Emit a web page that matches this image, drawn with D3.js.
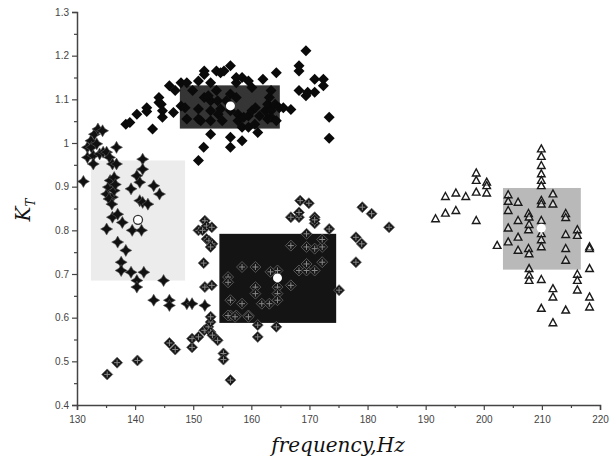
<!DOCTYPE html>
<html lang="en">
<head>
<meta charset="UTF-8">
<title>K_T vs frequency</title>
<script src="https://d3js.org/d3.v7.min.js"></script>
<style>
    body { margin: 0; background: #fff; }
    svg { display: block; }
    .tick text { font-family: Arial, "Liberation Sans", sans-serif; font-size: 10px; fill: #444; }
    .domain, .tick line { stroke: #444; }
</style>
</head>
<body>
<script>
    // filled diamonds (upper cluster)
    const diamondPts = [
        [138.4,1.043],[139.1,1.047],[140.3,1.066],[142.0,1.081],[142.0,1.072],[143.0,1.032],
        [144.1,1.104],[144.1,1.093],[144.5,1.089],[144.7,1.074],[144.7,1.059],[145.9,1.131],
        [146.9,1.120],[147.9,1.138],[147.9,1.085],[148.9,1.138],[148.9,1.055],[149.9,1.120],
        [150.9,1.055],[150.9,0.960],[151.8,0.990],[150.9,1.142],[151.9,1.165],[151.9,1.157],
        [151.9,1.104],[153.0,1.138],[153.0,1.097],[153.0,1.074],[153.0,1.020],[153.0,1.051],
        [154.0,1.165],[154.0,1.120],[154.3,1.066],[154.7,1.161],[155.0,1.051],[155.3,1.165],
        [156.4,1.177],[156.4,1.013],[156.4,0.990],[156.4,1.112],[156.4,1.074],[157.4,1.138],
        [157.4,1.150],[157.4,1.104],[157.7,1.066],[158.4,1.150],[158.4,1.005],[158.4,1.036],
        [159.5,1.142],[159.5,1.062],[159.5,1.036],[160.1,1.127],[160.6,1.043],[161.1,1.024],
        [161.4,1.062],[162.0,1.146],[162.4,1.074],[162.8,1.089],[163.1,1.104],[163.4,1.074],
        [163.4,1.059],[164.1,1.089],[164.3,1.161],[164.3,1.051],[164.8,1.081],[165.5,1.081],
        [166.8,1.077],[168.2,1.177],[168.2,1.165],[168.2,1.120],[169.4,1.211],[169.4,1.108],
        [169.7,1.116],[170.9,1.116],[170.9,1.146],[172.4,1.146],[172.4,1.131],[173.4,1.059],
        [173.4,1.011],[148.6,1.081],[150.9,1.078],[151.3,1.051],[152.6,1.108],[154.2,1.097],
        [154.7,1.078],[155.7,1.097],[157.7,1.051],[158.7,1.059],[160.1,1.074],[160.7,1.081],
        [162.8,1.055],[163.4,1.120],[146.6,1.070]
    ];

    // four-point stars (left cluster)
    const starPts = [
        [131.1,0.912],[131.8,0.990],[131.8,0.967],[132.4,1.005],[132.5,0.990],[132.8,0.971],
        [132.8,0.952],[133.0,1.020],[133.4,0.998],[133.6,1.032],[133.9,0.975],[134.4,1.028],
        [134.5,0.979],[135.1,0.979],[135.1,0.883],[135.4,0.899],[135.7,0.914],[135.6,0.967],
        [136.1,0.876],[136.1,0.830],[136.1,0.952],[136.4,0.921],[136.4,0.891],[136.8,0.990],
        [136.8,0.952],[137.0,0.837],[135.1,0.803],[137.0,0.773],[137.6,0.727],[137.6,0.708],
        [138.4,0.754],[137.8,0.818],[139.3,0.895],[139.3,0.704],[139.5,0.800],[140.3,0.925],
        [140.3,0.685],[140.3,0.670],[140.8,0.910],[140.8,0.868],[141.1,0.800],[141.3,0.963],
        [141.3,0.940],[141.5,0.704],[141.3,0.864],[142.2,0.860],[143.2,0.902],[144.2,0.883],
        [144.9,0.685],[143.2,0.640],[145.9,0.640],[145.9,0.628],[148.9,0.632],[149.8,0.632],
        [152.0,0.628],[135.5,0.872],[136.0,0.860],[136.6,0.905]
    ];

    // crossed diamonds (lower middle cluster)
    const crossPts = [
        [135.2,0.470],[136.9,0.497],[140.4,0.502],[145.9,0.542],[146.9,0.527],[149.8,0.532],
        [149.8,0.552],[150.9,0.556],[151.9,0.571],[152.6,0.579],[153.0,0.567],[153.3,0.560],
        [154.2,0.548],[153.0,0.590],[153.0,0.602],[155.2,0.518],[155.2,0.504],[156.4,0.457],
        [152.0,0.670],[153.2,0.674],[151.8,0.725],[150.9,0.800],[151.6,0.800],[152.0,0.822],
        [152.3,0.810],[152.3,0.780],[152.7,0.776],[153.3,0.769],[153.0,0.762],[153.2,0.807],
        [157.4,0.605],[156.4,0.605],[159.5,0.605],[161.1,0.583],[161.1,0.556],[164.3,0.579],
        [168.2,0.830],[168.4,0.868],[169.9,0.862],[166.8,0.830],[168.2,0.841],[170.9,0.830],
        [170.9,0.816],[170.9,0.824],[173.4,0.803],[175.1,0.663],[178.0,0.784],[179.0,0.769],
        [178.0,0.727],[179.1,0.853],[180.7,0.838],[183.7,0.807],[169.5,0.792],
        [156.0,0.693],[156.0,0.681],[158.4,0.716],[160.7,0.716],[160.7,0.670],[160.7,0.655],
        [156.4,0.640],[158.4,0.632],[161.8,0.632],[163.1,0.632],[164.5,0.708],[163.3,0.705],
        [164.5,0.670],[164.5,0.655],[164.5,0.640],[166.8,0.765],[166.8,0.674],[168.2,0.708],
        [169.5,0.708],[169.5,0.723],[170.9,0.708],[169.5,0.762],[170.9,0.758],[172.2,0.762],
        [172.2,0.779],[172.2,0.727],[156.0,0.605],[157.2,0.602],[159.5,0.602]
    ];

    // open triangles (right cluster)
    const trianglePts = [
        [191.7,0.826],[193.4,0.877],[193.4,0.839],[195.2,0.885],[195.2,0.845],[196.9,0.877],
        [198.7,0.931],[198.7,0.914],[198.7,0.887],[198.7,0.822],[200.5,0.910],[200.5,0.902],
        [200.5,0.885],[202.3,0.765],[204.2,0.881],[204.2,0.866],[204.2,0.845],[204.2,0.805],
        [204.2,0.773],[205.9,0.864],[205.9,0.822],[205.9,0.784],[205.9,0.754],[207.7,0.838],
        [207.7,0.801],[207.7,0.758],[207.8,0.830],[207.8,0.813],[207.8,0.746],[207.8,0.712],
        [207.8,0.697],[207.8,0.685],[209.9,0.986],[209.9,0.969],[209.9,0.948],[209.9,0.929],
        [209.9,0.914],[209.9,0.902],[209.9,0.868],[209.9,0.860],[209.9,0.822],[209.9,0.792],
        [209.9,0.778],[209.9,0.762],[209.9,0.687],[209.9,0.621],[211.9,0.883],[211.9,0.860],
        [211.9,0.666],[211.9,0.647],[211.9,0.588],[214.1,0.838],[214.1,0.829],[214.1,0.790],
        [214.1,0.758],[214.1,0.731],[214.1,0.617],[216.1,0.801],[216.1,0.788],[216.1,0.699],
        [216.1,0.685],[216.1,0.663],[218.2,0.762],[218.2,0.758],[218.2,0.712],[218.2,0.647],
        [218.2,0.624]
    ];

    // shaded ranges: [xMin, xMax, yMin, yMax] and their centres
    const boxRanges = [
        [147.7, 164.9, 1.033, 1.132],
        [132.4, 148.6, 0.685, 0.960],
        [154.5, 174.6, 0.588, 0.792],
        [203.3, 216.7, 0.710, 0.897]
    ];
    const boxCenters = [[156.4, 1.085], [140.5, 0.824], [164.5, 0.691], [209.9, 0.805]];
    const boxColors = ["#353535", "#ececec", "#141414", "#b9b9b9"];

    const xTicks = d3.range(130, 221, 10);
    const yTicks = d3.ticks(0.4, 1.3, 9);

    const W = 614, H = 465;
    const x = d3.scaleLinear().domain([130, 220]).range([77, 600]);
    const y = d3.scaleLinear().domain([0.4, 1.3]).range([405, 12]);

    const svg = d3.select("body").append("svg")
        .attr("width", W)
        .attr("height", H);

    // boxes behind the points
    svg.append("g").selectAll("rect")
        .data(boxRanges)
        .enter().append("rect")
        .attr("x", d => x(d[0]))
        .attr("y", d => y(d[3]))
        .attr("width", d => x(d[1]) - x(d[0]))
        .attr("height", d => y(d[2]) - y(d[3]))
        .attr("fill", (d, i) => boxColors[i]);

    // marker paths
    const diamondPath = "M0,-5.5L5.5,0L0,5.5L-5.5,0Z";
    const starPath = "M0,-6L2.2,-2.2L6,0L2.2,2.2L0,6L-2.2,2.2L-6,0L-2.2,-2.2Z";
    const trianglePath = "M0,-4.2L3.8,2.8L-3.8,2.8Z";

    svg.append("g").selectAll("g")
        .data(crossPts)
        .enter().append("g")
        .attr("transform", d => `translate(${x(d[0])},${y(d[1])})`)
        .each(function() {
            const g = d3.select(this);
            g.append("path").attr("d", diamondPath)
                .attr("fill", "#161616").attr("stroke", "#666").attr("stroke-width", 0.8);
            g.append("path").attr("d", "M0,-3L0,3M-3,0L3,0")
                .attr("stroke", "#888").attr("stroke-width", 1);
        });

    svg.append("g").selectAll("path")
        .data(starPts)
        .enter().append("path")
        .attr("d", starPath)
        .attr("transform", d => `translate(${x(d[0])},${y(d[1])})`)
        .attr("fill", "#111")
        .attr("stroke", "#555")
        .attr("stroke-width", 0.6);

    svg.append("g").selectAll("path")
        .data(diamondPts)
        .enter().append("path")
        .attr("d", diamondPath)
        .attr("transform", d => `translate(${x(d[0])},${y(d[1])})`)
        .attr("fill", "#0a0a0a");

    svg.append("g").selectAll("path")
        .data(trianglePts)
        .enter().append("path")
        .attr("d", trianglePath)
        .attr("transform", d => `translate(${x(d[0])},${y(d[1])})`)
        .attr("fill", "rgba(255,255,255,0.5)")
        .attr("stroke", "#1a1a1a")
        .attr("stroke-width", 1.4);

    // box centres
    svg.append("g").selectAll("circle")
        .data(boxCenters)
        .enter().append("circle")
        .attr("cx", d => x(d[0]))
        .attr("cy", d => y(d[1]))
        .attr("r", 4.5)
        .attr("fill", "#fff")
        .attr("stroke", (d, i) => i === 1 ? "#333" : "none")
        .attr("stroke-width", 1.3);

    // axes
    svg.append("g")
        .attr("transform", `translate(0,${y(0.4)})`)
        .call(d3.axisBottom(x).tickValues(xTicks).tickSize(5).tickPadding(6));
    svg.append("g")
        .attr("transform", `translate(0,${y(0.4)})`)
        .call(d3.axisBottom(x).tickValues(d3.range(135, 220, 10)).tickSize(3).tickFormat(""))
        .select(".domain").remove();

    svg.append("g")
        .attr("transform", `translate(${x(130)},0)`)
        .call(d3.axisLeft(y).tickValues(yTicks).tickSize(5).tickPadding(3).tickFormat(d3.format("~g")));
    svg.append("g")
        .attr("transform", `translate(${x(130)},0)`)
        .call(d3.axisLeft(y).tickValues(d3.range(0.45, 1.3, 0.1)).tickSize(3).tickFormat(""))
        .select(".domain").remove();

    svg.selectAll(".domain").attr("stroke-width", 1.5);
    svg.selectAll(".tick line").attr("stroke-width", 1.2);

    // axis titles
    svg.append("text")
        .attr("x", 338)
        .attr("y", 452)
        .attr("text-anchor", "middle")
        .style("font-family", "'DejaVu Serif', serif")
        .style("font-style", "italic")
        .style("font-size", "20px")
        .style("fill", "#111")
        .text("frequency,Hz");

    const yl = svg.append("text")
        .attr("transform", "translate(30,210) rotate(-90)")
        .attr("text-anchor", "middle")
        .style("font-family", "'DejaVu Serif', serif")
        .style("font-style", "italic")
        .style("fill", "#111");
    yl.append("tspan").style("font-size", "20px").text("K");
    yl.append("tspan").style("font-size", "12px").attr("dy", 5).text("T");
</script>
</body>
</html>
